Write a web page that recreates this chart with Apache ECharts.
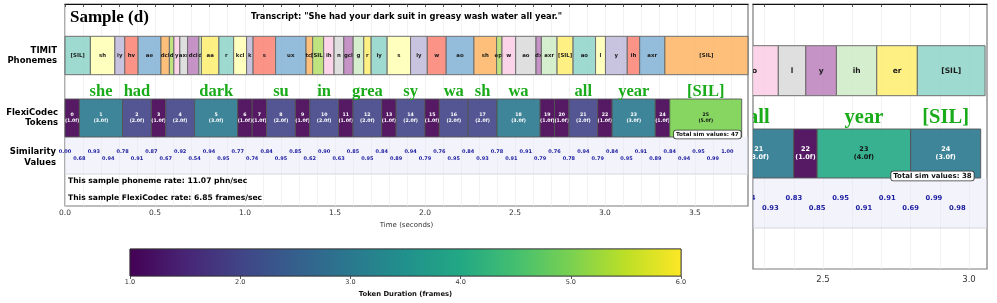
<!DOCTYPE html>
<html>
<head>
<meta charset="utf-8">
<script src="https://cdn.jsdelivr.net/npm/echarts@6.0.0/dist/echarts.min.js"></script>
<style>
html,body{margin:0;padding:0;background:#ffffff;}
#chart{width:997px;height:303px;}
</style>
</head>
<body>
<div id="chart"></div>
<script>
// ================= DATA =================
const sampleTitle = 'Sample (d)';
const transcript = 'Transcript: "She had your dark suit in greasy wash water all year."';
const phonemeRateText = 'This sample phoneme rate: 11.07 phn/sec';
const codecRateText = 'This sample FlexiCodec rate: 6.85 frames/sec';
const rowLabels = ['TIMIT\nPhonemes', 'FlexiCodec\nTokens', 'Similarity\nValues'];
const frameSeconds = 0.08;

const phonemes = ['[SIL]','sh','iy','hv','ae','dcl','d','y','axr','dcl','d','aa','r','kcl','k','s','ux','tcl','[SIL]','ih','n','gcl','g','r','iy','s','iy','w','ao','sh','epi','w','ao','dx','axr','[SIL]','ao','l','y','ih','axr','[SIL]'];
const phonemeStarts = [0.000,0.141,0.277,0.332,0.406,0.533,0.580,0.605,0.638,0.681,0.744,0.758,0.855,0.937,1.009,1.045,1.170,1.339,1.376,1.437,1.495,1.549,1.601,1.660,1.701,1.790,1.920,2.013,2.118,2.272,2.398,2.428,2.504,2.617,2.647,2.734,2.823,2.948,3.003,3.124,3.193,3.333];
const phonemeEnd = 3.795;

const tokenIds = [0,1,2,3,4,5,6,7,8,9,10,11,12,13,14,15,16,17,18,19,20,21,22,23,24,25];
const tokenDurations = [1,3,2,1,2,3,1,1,2,1,2,1,2,1,2,1,2,2,3,1,1,2,1,3,1,5];

const simValues = [0.00,0.68,0.93,0.94,0.78,0.91,0.87,0.67,0.92,0.54,0.94,0.95,0.77,0.74,0.84,0.95,0.85,0.62,0.90,0.63,0.85,0.95,0.84,0.89,0.94,0.79,0.76,0.95,0.84,0.93,0.78,0.91,0.91,0.79,0.76,0.78,0.94,0.79,0.84,0.95,0.91,0.89,0.84,0.94,0.95,0.99,1.00];

const words = ['she','had','dark','su','in','grea','sy','wa','sh','wa','all','year','[SIL]'];
const wordTokens = [1,2,5,8,10,12,14,16,17,18,21,23,25];

const timeLabelValues = [0,0.5,1.0,1.5,2.0,2.5,3.0,3.5];

// partial neighbouring panel (cropped at the right edge)
const rightPhonemes = ['ao','l','y','ih','er','[SIL]'];
const rightPhonemeStarts = [2.167,2.347,2.441,2.546,2.684,2.823];
const rightPhonemeEnd = 3.055;
const rightFirstFrame = 27;
const rightTokenIds = [21,22,23,24];
const rightTokenDurations = [3,1,4,3];
const rightSimFirstFrame = 28;
const rightSimValues = [0.84,0.93,0.83,0.85,0.95,0.91,0.91,0.69,0.99,0.98];
const rightWords = ['all','year','[SIL]'];
const rightWordTokens = [21,23,24];
const rightTimeLabelValues = [2.5,3.0];

const colorbarTicks = [1,2,3,4,5,6];
const colorbarName = 'Token Duration (frames)';

// ================= STYLE / LAYOUT =================
const SET3 = ['#8dd3c7','#ffffb3','#bebada','#fb8072','#80b1d3','#fdb462','#b3de69','#fccde5','#d9d9d9','#bc80bd','#ccebc5','#ffed6f'];
const VIRIDIS = ['#440154','#482475','#414487','#355f8d','#2a788e','#21918c','#22a884','#44bf70','#7ad151','#bddf26','#fde725'];
const SANS = '"DejaVu Sans"';
const SERIF = '"Liberation Serif"';
const WORD_GREEN = '#1aab1a';
const SIM_BLUE = '#1c1ca0';

const MAIN = {H:202, phon:[32.3,70.7], word:87.5, tok:[95,133], band:[133,170], simTop:148, simBot:155,
  phonFont:5.4, tokFont:4.7, tokLine:6, simFont:5, wordFont:16.5, totFont:5.6, totY:130.5, totPad:1};
const RIGHT = {H:265, phon:[41.7,91.7], word:114, tok:[125,174], band:[174,224], simTop:194, simBot:204,
  phonFont:7.5, tokFont:6.5, tokLine:8, simFont:6.8, wordFont:20.5, totFont:7, totY:172, totPad:7};

function hexRgb(h){ return [parseInt(h.slice(1,3),16), parseInt(h.slice(3,5),16), parseInt(h.slice(5,7),16)]; }
function rgba(h, a){ const c = hexRgb(h); return 'rgba(' + c[0] + ',' + c[1] + ',' + c[2] + ',' + a + ')'; }
function viridis(t){
  t = Math.max(0, Math.min(1, t));
  const f = t * 10, i = Math.min(9, Math.floor(f)), r = f - i;
  const a = hexRgb(VIRIDIS[i]), b = hexRgb(VIRIDIS[i + 1]);
  return '#' + [0,1,2].map(k => Math.round(a[k] + (b[k] - a[k]) * r).toString(16).padStart(2, '0')).join('');
}
function steps(a, b, st){ const out = []; for (let v = a; v <= b + 1e-9; v += st) out.push(Math.round(v * 1000) / 1000); return out; }

function tokenSpans(ids, durs, firstFrame){
  let f = firstFrame; const out = {};
  ids.forEach((id, i) => { out[id] = [f * frameSeconds, (f + durs[i]) * frameSeconds, durs[i]]; f += durs[i]; });
  return out;
}

function phonemeSeries(ax, names, starts, end, paletteOffset, L, clip){
  const data = names.map((n, i) => [starts[i], i + 1 < starts.length ? starts[i + 1] : end, i]);
  return { type:'custom', xAxisIndex:ax, yAxisIndex:ax, clip:clip, silent:true, z:3, data:data,
    renderItem: function(params, api){
      const i = api.value(2);
      const p0 = api.coord([api.value(0), L.phon[0]]);
      const p1 = api.coord([api.value(1), L.phon[1]]);
      return { type:'group', children:[
        { type:'rect', shape:{x:p0[0], y:p0[1], width:p1[0]-p0[0], height:p1[1]-p0[1]},
          style:{fill:rgba(SET3[(i + paletteOffset) % 12], 0.85), stroke:'#6e6e6e', lineWidth:1} },
        { type:'text', x:(p0[0]+p1[0])/2, y:(p0[1]+p1[1])/2,
          style:{text:names[i], fill:'#1a1a1a', font:'bold ' + L.phonFont + 'px ' + SANS, align:'center', verticalAlign:'middle'} }
      ]};
    }};
}

function bandSeries(ax, L){
  return { type:'custom', xAxisIndex:ax, yAxisIndex:ax, silent:true, z:1, clip:true, data:[[0]],
    renderItem: function(params, api){
      const cs = params.coordSys;
      const y0 = api.coord([0, L.band[0]])[1], y1 = api.coord([0, L.band[1]])[1];
      return { type:'group', children:[
        { type:'rect', shape:{x:cs.x, y:y0, width:cs.width, height:y1-y0}, style:{fill:'rgba(228,228,248,0.45)'} },
        { type:'line', shape:{x1:cs.x, y1:y1, x2:cs.x + cs.width, y2:y1}, style:{stroke:'#d6d6e0', lineWidth:1} }
      ]};
    }};
}

function tokenSeries(ax, ids, durs, firstFrame, L, clip, totalCount){
  const spans = tokenSpans(ids, durs, firstFrame);
  const data = ids.map(id => [spans[id][0], spans[id][1], id, spans[id][2]]);
  const last = ids[ids.length - 1];
  return { type:'custom', xAxisIndex:ax, yAxisIndex:ax, clip:clip, silent:true, z:4, data:data,
    renderItem: function(params, api){
      const s = api.value(0), e = api.value(1), id = api.value(2), d = api.value(3);
      const p0 = api.coord([s, L.tok[0]]), p1 = api.coord([e, L.tok[1]]);
      const children = [
        { type:'rect', shape:{x:p0[0], y:p0[1], width:p1[0]-p0[0], height:p1[1]-p0[1]},
          style:{fill:rgba(viridis((d - 1) / 5), 0.9), stroke:'#555', lineWidth:0.9} },
        { type:'text', x:(p0[0]+p1[0])/2, y:(p0[1]+p1[1])/2,
          style:{text:id + '\n(' + d.toFixed(1) + 'f)', fill: d >= 4 ? '#111' : '#ffffff',
                 font:'bold ' + L.tokFont + 'px ' + SANS, lineHeight:L.tokLine, align:'center', verticalAlign:'middle'} }
      ];
      if (id === last) {
        const pb = api.coord([e, L.totY]);
        children.push({ type:'text', x:pb[0] - L.totPad, y:pb[1], z2:10,
          style:{text:'Total sim values: ' + totalCount, fill:'#111', font:'bold ' + L.totFont + 'px ' + SANS,
                 align:'right', verticalAlign:'middle', backgroundColor:'#ffffff', borderColor:'#333', borderWidth:0.8,
                 borderRadius:2, padding:[1,2,1,2]} });
      }
      return { type:'group', children:children };
    }};
}

function simSeries(ax, vals, firstFrame, L, clip){
  const data = vals.map((v, k) => [(firstFrame + k) * frameSeconds, v, (firstFrame + k) % 2]);
  return { type:'custom', xAxisIndex:ax, yAxisIndex:ax, clip:clip, silent:true, z:5, data:data,
    renderItem: function(params, api){
      const p = api.coord([api.value(0), api.value(2) === 0 ? L.simTop : L.simBot]);
      return { type:'text', x:p[0], y:p[1],
        style:{text:api.value(1).toFixed(2), fill:SIM_BLUE, font:'bold ' + L.simFont + 'px ' + SANS, align:'center', verticalAlign:'middle'} };
    }};
}

function wordSeries(ax, wordList, wordTok, ids, durs, firstFrame, L, clip){
  const spans = tokenSpans(ids, durs, firstFrame);
  const data = wordList.map((w, i) => [(spans[wordTok[i]][0] + spans[wordTok[i]][1]) / 2, i]);
  return { type:'custom', xAxisIndex:ax, yAxisIndex:ax, clip:clip, silent:true, z:5, data:data,
    renderItem: function(params, api){
      const p = api.coord([api.value(0), L.word]);
      return { type:'text', x:p[0], y:p[1],
        style:{text:wordList[api.value(1)], fill:WORD_GREEN, font:'bold ' + L.wordFont + 'px ' + SERIF, align:'center', verticalAlign:'middle'} };
    }};
}

const chart = echarts.init(document.getElementById('chart'), null, {renderer:'canvas', width:997, height:303});

const axisBase = {
  type:'value',
  axisLine:{show:true, lineStyle:{color:'#111', width:1}},
  axisTick:{show:true, length:3, lineStyle:{color:'#333', width:0.8}},
  splitLine:{show:true, lineStyle:{color:'#ececec', width:0.7}},
  axisLabel:{color:'#333', fontFamily:'DejaVu Sans', formatter: v => v.toFixed(1)}
};

const option = {
  animation:false,
  backgroundColor:'#ffffff',
  grid:[
    {left:65, top:4, width:683, height:MAIN.H, show:true, borderColor:'#7a7a7a', borderWidth:1.2, outerBoundsMode:'none'},
    {left:753, top:4, width:234, height:RIGHT.H, show:true, borderColor:'#7a7a7a', borderWidth:1.2, outerBoundsMode:'none'},
    {left:130, top:249, width:551, height:27, show:true, borderColor:'#333', borderWidth:0.8, outerBoundsMode:'none'}
  ],
  xAxis:[
    Object.assign({}, axisBase, {gridIndex:0, min:0, max:phonemeEnd,
      axisTick:Object.assign({}, axisBase.axisTick, {customValues:steps(0, 3.7, 0.1)}),
      axisLabel:Object.assign({}, axisBase.axisLabel, {customValues:timeLabelValues, fontSize:7.5, margin:3}),
      name:'Time (seconds)', nameLocation:'middle', nameGap:12,
      nameTextStyle:{fontSize:7, color:'#333', fontFamily:'DejaVu Sans'}}),
    Object.assign({}, axisBase, {gridIndex:1, min:2.2603, max:3.0616,
      axisTick:Object.assign({}, axisBase.axisTick, {customValues:steps(2.3, 3.0, 0.1)}),
      axisLabel:Object.assign({}, axisBase.axisLabel, {customValues:rightTimeLabelValues, fontSize:8.5, margin:6})}),
    {type:'value', gridIndex:2, min:colorbarTicks[0], max:colorbarTicks[colorbarTicks.length-1], interval:1,
      axisLine:{show:false}, axisTick:{show:true, length:3, lineStyle:{color:'#333', width:0.8}},
      splitLine:{show:false},
      axisLabel:{color:'#333', fontSize:6.5, fontFamily:'DejaVu Sans', margin:3, formatter: v => v.toFixed(1)},
      name:colorbarName, nameLocation:'middle', nameGap:15,
      nameTextStyle:{fontSize:6.8, fontWeight:'bold', color:'#111', fontFamily:'DejaVu Sans'}}
  ],
  yAxis:[
    {type:'value', gridIndex:0, min:0, max:MAIN.H, inverse:true, show:false},
    {type:'value', gridIndex:1, min:0, max:RIGHT.H, inverse:true, show:false},
    {type:'value', gridIndex:2, min:0, max:1, show:false}
  ],
  series:[
    bandSeries(0, MAIN),
    phonemeSeries(0, phonemes, phonemeStarts, phonemeEnd, 0, MAIN, false),
    tokenSeries(0, tokenIds, tokenDurations, 0, MAIN, false, simValues.length),
    simSeries(0, simValues, 0, MAIN, false),
    wordSeries(0, words, wordTokens, tokenIds, tokenDurations, 0, MAIN, false),

    bandSeries(1, RIGHT),
    phonemeSeries(1, rightPhonemes, rightPhonemeStarts, rightPhonemeEnd, 7, RIGHT, true),
    tokenSeries(1, rightTokenIds, rightTokenDurations, rightFirstFrame, RIGHT, true,
      rightFirstFrame + rightTokenDurations.reduce((a, b) => a + b, 0)),
    simSeries(1, rightSimValues, rightSimFirstFrame, RIGHT, true),
    wordSeries(1, rightWords, rightWordTokens, rightTokenIds, rightTokenDurations, rightFirstFrame, RIGHT, true),

    { type:'custom', xAxisIndex:2, yAxisIndex:2, silent:true, z:3,
      data:[[colorbarTicks[0], colorbarTicks[colorbarTicks.length-1]]],
      renderItem: function(params, api){
        const p0 = api.coord([api.value(0), 1]), p1 = api.coord([api.value(1), 0]);
        return { type:'rect', shape:{x:p0[0], y:p0[1], width:p1[0]-p0[0], height:p1[1]-p0[1]},
          style:{fill:{type:'linear', x:0, y:0, x2:1, y2:0, colorStops:VIRIDIS.map((c, i) => ({offset:i/10, color:c}))},
                 stroke:'#333', lineWidth:0.8} };
      }}
  ],
  graphic:[
    {type:'text', x:70, y:18, z:10, style:{text:sampleTitle, font:'bold 17px ' + SERIF, fill:'#000', align:'left', verticalAlign:'middle'}},
    {type:'text', x:406.5, y:17, z:10, style:{text:transcript, font:'bold 8.3px ' + SANS, fill:'#000', align:'center', verticalAlign:'middle'}},
    {type:'text', x:57, y:55.5, z:10, style:{text:rowLabels[0], font:'bold 8.5px ' + SANS, lineHeight:10, fill:'#000', align:'right', verticalAlign:'middle'}},
    {type:'text', x:58, y:118, z:10, style:{text:rowLabels[1], font:'bold 8.5px ' + SANS, lineHeight:10, fill:'#000', align:'right', verticalAlign:'middle'}},
    {type:'text', x:56, y:157.5, z:10, style:{text:rowLabels[2], font:'bold 8.5px ' + SANS, lineHeight:11, fill:'#000', align:'right', verticalAlign:'middle'}},
    {type:'text', x:68, y:181, z:10, style:{text:phonemeRateText, font:'bold 7.6px ' + SANS, fill:'#000', align:'left', verticalAlign:'middle'}},
    {type:'text', x:68, y:198, z:10, style:{text:codecRateText, font:'bold 7.6px ' + SANS, fill:'#000', align:'left', verticalAlign:'middle'}}
  ]
};
chart.setOption(option);
</script>
</body>
</html>
